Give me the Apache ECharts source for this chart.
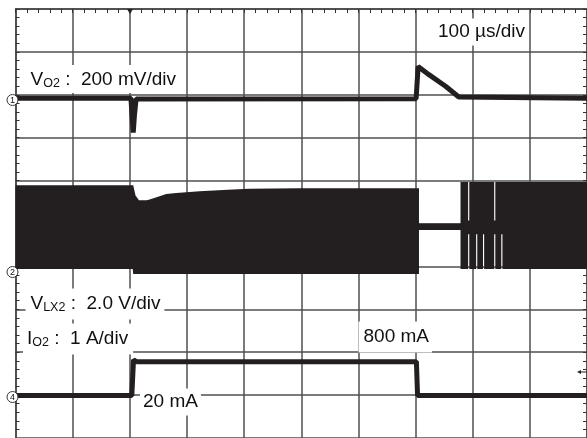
<!DOCTYPE html>
<html><head><meta charset="utf-8">
<script src="https://cdn.jsdelivr.net/npm/echarts@6/dist/echarts.min.js"></script>
<style>html,body{margin:0;padding:0;background:#fff;overflow:hidden}#c{width:587px;height:438px}</style>
</head><body><div id="c"></div>
<script>
// Horizontal: time in µs (100 µs/div). Vertical: screen divisions (0 = bottom of graticule).
const timeRange = [0, 1000];
const divRange = [0, 10];

// CH1 VO2 trace
const voTrace = [[0,7.92],[202,7.92],[203.5,7.6],[206,7.12],[208,7.5],[211,7.9],[701,7.91],[704.5,8.66],[723.4,8.47],[752.5,8.20],[775.7,7.95],[1000,7.92]];
// CH4 IO2 trace
const ioTrace = [[0,0.99],[203.5,0.99],[206.5,1.82],[212,1.78],[701.5,1.78],[703.5,0.99],[1000,0.99]];
// CH2 VLX2 switching envelope (top and bottom)
const lxTop = [[0,5.89],[206,5.89],[210,5.65],[216,5.54],[229.5,5.54],[234.7,5.56],[263.9,5.69],[281.3,5.71],[322,5.75],[380,5.79],[409.3,5.81],[496.5,5.82],[706,5.82],[706,5.0],[778.7,5.0],[778.7,5.97],[792,5.97],[792,5.07],[794,5.07],[794,5.97],[837.6,5.97],[837.6,5.07],[839.6,5.07],[839.6,5.97],[1000,5.97]];
const lxBottom = [[0,3.94],[205,3.94],[206,3.82],[706,3.82],[706,4.85],[778.7,4.85],[778.7,3.94],[792,3.94],[792,4.75],[794,4.75],[794,3.94],[806,3.94],[806,4.75],[808,4.75],[808,3.94],[818,3.94],[818,4.75],[820,4.75],[820,3.94],[837.6,3.94],[837.6,4.75],[839.6,4.75],[839.6,3.94],[850,3.94],[850,4.75],[852,4.75],[852,3.94],[1000,3.94]];

const FONT = '"Liberation Sans", Arial, sans-serif';
const TRACE = '#231f20';
const GRIDC = '#4f4f4f';

function label(textLeft, y, text, pad) {
  return {
    type: 'text', x: textLeft - pad[3], y: y, z: 100,
    style: {
      text: text, fill: '#111', align: 'left', verticalAlign: 'middle',
      backgroundColor: '#fff', padding: pad,
      rich: {
        a: { fontSize: 19, fontFamily: FONT, lineHeight: 21, fill: '#111' },
        b: { fontSize: 12.5, fontFamily: FONT, lineHeight: 17.5, verticalAlign: 'bottom', fill: '#111' }
      }
    }
  };
}
function marker(x, y, n) {
  return {
    type: 'group', x: x, y: y, z: 100,
    children: [
      { type: 'circle', shape: { cx: 0, cy: 0, r: 5.5 }, style: { fill: '#fff', stroke: '#222', lineWidth: 0.9 }, z: 100 },
      { type: 'text', z: 101, style: { text: String(n), x: 0, y: 0.5, align: 'center', verticalAlign: 'middle', font: '9px ' + FONT, fill: '#111' } }
    ]
  };
}

const hidden = { show: false };
function gridAxis(extra) {
  return Object.assign({
    type: 'value',
    axisLine: { show: true, onZero: false, lineStyle: { color: '#444', width: 1.5 } },
    axisTick: hidden, axisLabel: hidden,
    splitLine: { show: true, lineStyle: { color: GRIDC, width: 1.5 } }
  }, extra);
}
function tickAxis(extra) {
  return Object.assign({
    type: 'value',
    axisLine: { show: false, onZero: false },
    axisTick: { show: true, inside: true, length: 4, lineStyle: { color: '#333', width: 1 } },
    axisLabel: hidden, splitLine: hidden
  }, extra);
}

const chart = echarts.init(document.getElementById('c'), null, { renderer: 'canvas' });
chart.setOption({
  animation: false,
  backgroundColor: '#fff',
  grid: { left: 15.5, top: 9, width: 573, height: 432, containLabel: false },
  xAxis: [
    gridAxis({ min: timeRange[0], max: timeRange[1], interval: 100, position: 'top' }),
    tickAxis({ min: timeRange[0], max: timeRange[1], interval: 20, position: 'top' })
  ],
  yAxis: [
    gridAxis({ min: divRange[0], max: divRange[1], interval: 1, position: 'left' }),
    tickAxis({ min: divRange[0], max: divRange[1], interval: 0.2, position: 'left' }),
    tickAxis({ min: divRange[0], max: divRange[1], interval: 0.2, position: 'right',
      axisLine: { show: true, onZero: false, lineStyle: { color: '#444', width: 1.5 } } })
  ],
  series: [
    {
      type: 'custom', coordinateSystem: 'cartesian2d', data: [[0, 0]], z: 3, silent: true,
      renderItem: function (params, api) {
        const pts = lxTop.map(p => api.coord(p)).concat(lxBottom.slice().reverse().map(p => api.coord(p)));
        return { type: 'polygon', shape: { points: pts }, style: { fill: TRACE } };
      }
    },
    { type: 'line', data: voTrace, symbol: 'none', z: 4, lineStyle: { color: TRACE, width: 5 } },
    { type: 'line', data: ioTrace, symbol: 'none', z: 4, lineStyle: { color: TRACE, width: 5 } }
  ],
  graphic: [
    label(30.5, 79, '{a|V}{b|O2}{a| :  200 mV/div}', [4, 5, 3, 4]),
    label(438, 32, '{a|100 µs/div}', [3, 4, 3, 5]),
    label(30.5, 304, '{a|V}{b|LX2}{a| :  2.0 V/div}', [5, 4, 5, 5]),
    label(27, 339, '{a|I}{b|O2}{a| :  1 A/div}', [5, 5, 5, 4]),
    label(363.5, 337, '{a|800 mA}', [5, 3, 5, 5]),
    label(143, 402, '{a|20 mA}', [3, 3, 3, 3]),
    marker(12.5, 100, 1),
    marker(12.5, 272, 2),
    marker(12.5, 397, 4),
    { type: 'polygon', z: 100, shape: { points: [[127, 9], [133, 9], [130, 14]] }, style: { fill: '#222' } },
    { type: 'line', z: 100, shape: { x1: 580, y1: 372, x2: 587, y2: 372 }, style: { stroke: '#222', lineWidth: 1 } },
    { type: 'polygon', z: 100, shape: { points: [[577, 372], [581, 370], [581, 374]] }, style: { fill: '#222' } }
  ]
});
</script></body></html>
